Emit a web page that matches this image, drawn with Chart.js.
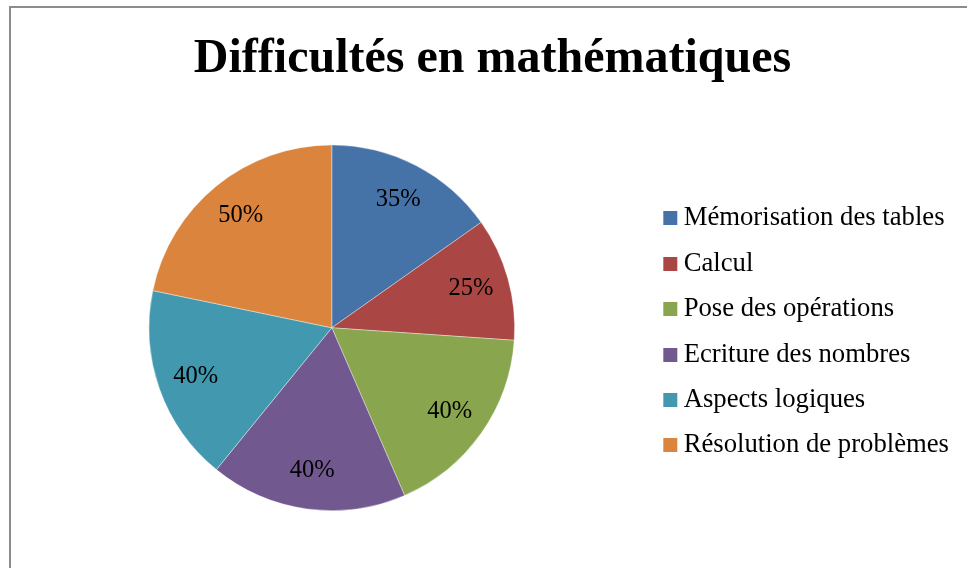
<!DOCTYPE html>
<html>
<head>
<meta charset="utf-8">
<script src="https://cdn.jsdelivr.net/npm/chart.js@4"></script>
<style>
body { margin: 0; background: #fff; overflow: hidden; }
#frame { position: absolute; left: 9px; top: 6px; width: 970px; height: 570px;
         border-left: 2px solid #8c8c8c; border-top: 2px solid #8c8c8c; }
#box { position: absolute; left: 0; top: 0; width: 956px; height: 560px; }
</style>
</head>
<body>
<div id="frame"><div id="box"><canvas id="difficultes"></canvas></div></div>
<script>
var categories = ['Mémorisation des tables', 'Calcul', 'Pose des opérations',
                  'Ecriture des nombres', 'Aspects logiques', 'Résolution de problèmes'];
var values = [35, 25, 40, 40, 40, 50];
var value_labels = ['35%', '25%', '40%', '40%', '40%', '50%'];
var colours = ['#4572A7', '#AA4643', '#89A54E', '#71588F', '#4198AF', '#DB843D'];

var serif = "'Liberation Serif', 'Times New Roman', serif";

// draws the percentage inside each slice
var slice_labels = {
    id: 'slice_labels',
    afterDatasetsDraw: function(chart) {
        var ctx = chart.ctx;
        var meta = chart.getDatasetMeta(0);
        ctx.save();
        ctx.font = '24.5px ' + serif;
        ctx.fillStyle = '#000';
        ctx.textAlign = 'center';
        ctx.textBaseline = 'middle';
        meta.data.forEach(function(arc, i) {
            var p = arc.getProps(['x', 'y', 'startAngle', 'endAngle', 'outerRadius'], true);
            var mid = (p.startAngle + p.endAngle) / 2;
            var r = p.outerRadius * 0.79;
            ctx.fillText(value_labels[i], p.x + Math.cos(mid) * r, p.y + Math.sin(mid) * r);
        });
        ctx.restore();
    }
};

// legend marker: small square pushed to the right so it sits close to the text
function legend_square(colour) {
    var c = document.createElement('canvas');
    c.width = 30;
    c.height = 14;
    var cx = c.getContext('2d');
    cx.fillStyle = colour;
    cx.fillRect(15, 0, 14, 14);
    return c;
}

function make_legend_labels(chart) {
    var items = Chart.controllers.pie.overrides.plugins.legend.labels.generateLabels(chart);
    items.forEach(function(item, i) {
        item.pointStyle = legend_square(colours[i]);
    });
    return items;
}

function pie_chart(canvas) {
    var myChart = new Chart(canvas, {
        type: 'pie',
        data: {
            labels: categories,
            datasets: [{
                data: values,
                backgroundColor: colours,
                borderColor: 'rgba(255,255,255,0.5)',
                borderWidth: 0.75,
            }]
        },
        plugins: [slice_labels],
        options: {
            responsive: true,
            maintainAspectRatio: false,
            animation: false,
            layout: { padding: { left: 15, right: 8, top: 0, bottom: 57 } },
            plugins: {
                title: {
                    display: true,
                    text: 'Difficultés en mathématiques',
                    color: '#000',
                    font: { family: serif, size: 48, weight: 'bold', lineHeight: 1.2 },
                    padding: { top: 23, bottom: 56 }
                },
                legend: {
                    position: 'right',
                    fullSize: false,
                    title: { display: true, text: '', padding: 0, font: { size: 8, lineHeight: 1 } },
                    labels: {
                        color: '#000',
                        font: { family: serif, size: 26.7 },
                        usePointStyle: true,
                        boxWidth: 14,
                        boxHeight: 14,
                        padding: 18.7,
                        generateLabels: make_legend_labels
                    }
                },
                tooltip: { enabled: false }
            }
        }
    });
    window.myChart = myChart;
}

pie_chart(document.getElementById('difficultes'));
</script>
</body>
</html>
